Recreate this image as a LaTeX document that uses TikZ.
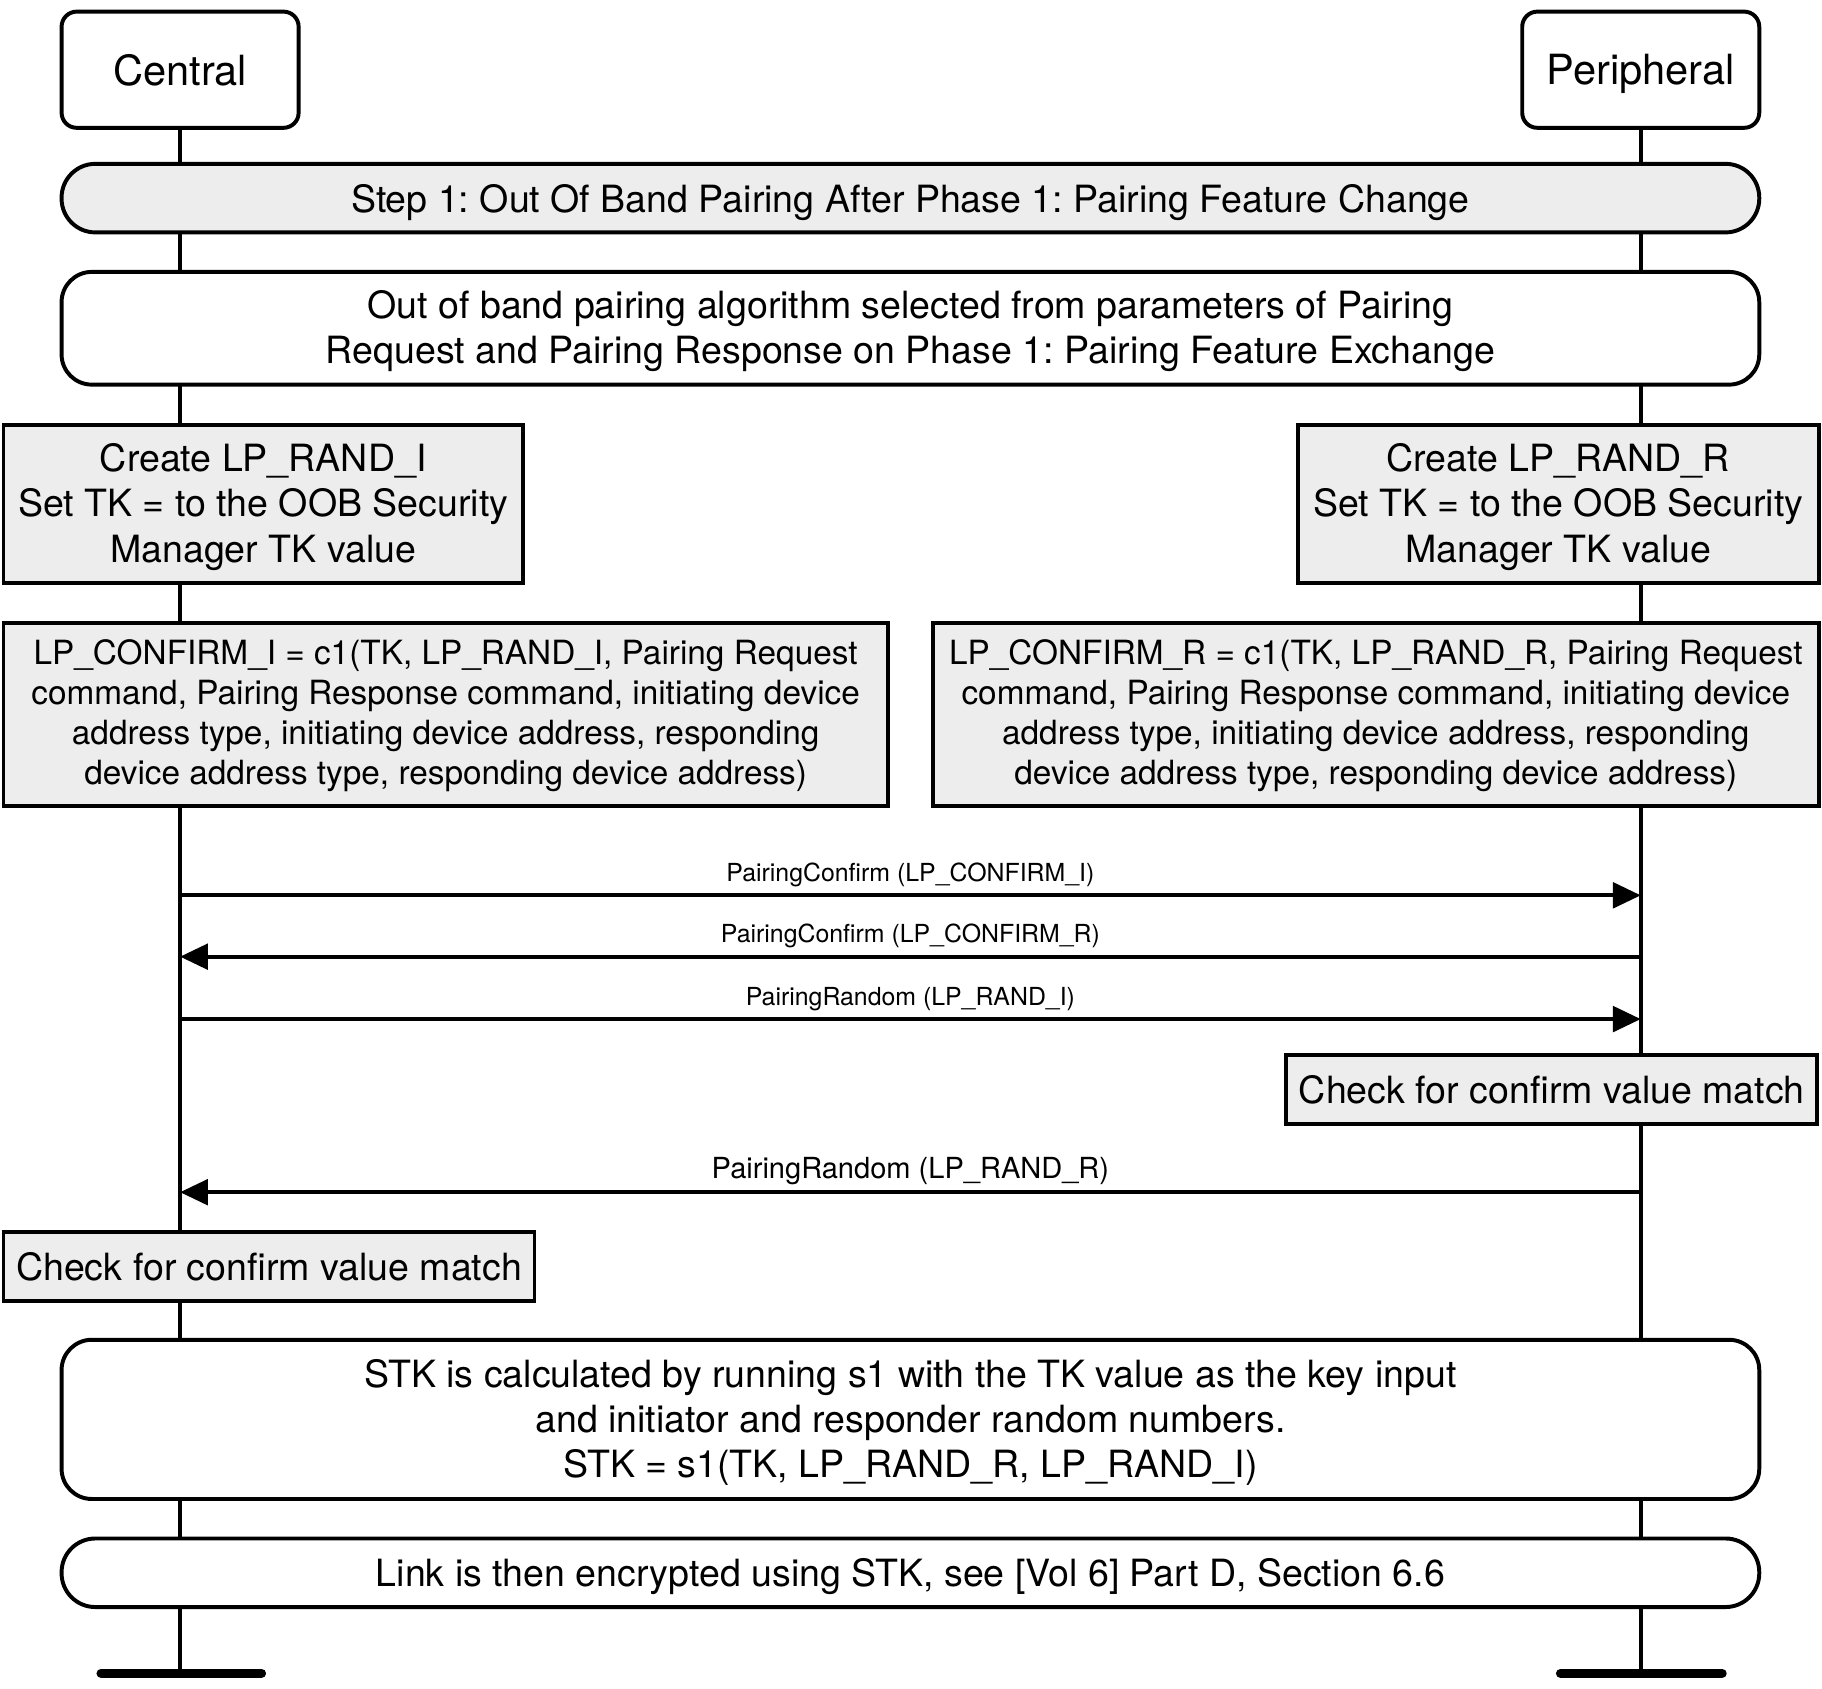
\documentclass[tikz,border=0pt]{standalone}
\usepackage{fontspec}
\setmainfont{TeX Gyre Heros}
\usetikzlibrary{arrows.meta,backgrounds}
\definecolor{boxgray}{RGB}{237,237,237}
\newcommand\toprule[1]{\rule{0pt}{#1}}
\frenchspacing
\begin{document}
\begin{tikzpicture}[x=1pt,y=-1pt,
  every node/.style={inner sep=0pt, outer sep=0pt, align=center},
  actor/.style={draw, line width=3.4pt, rounded corners=13pt, fill=white, text depth=0pt,
    minimum width=204pt, minimum height=100pt, font=\fontsize{35.8}{43}\selectfont},
  bar/.style={draw, line width=3.4pt, rounded corners=29pt, minimum width=1461pt, text depth=0pt,
    minimum height=59pt, font=\fontsize{32.3}{39}\selectfont},
  roundbox/.style={draw, line width=3.4pt, rounded corners=26pt, fill=white,
    minimum width=1461pt, font=\fontsize{32.3}{39}\selectfont},
  actbox/.style={draw, line width=3.4pt, fill=boxgray, font=\fontsize{32.3}{39}\selectfont},
  confbox/.style={draw, line width=3.4pt, fill=boxgray, font=\fontsize{28.7}{34.5}\selectfont,
    minimum height=158pt},
  life/.style={line width=3.4pt},
  msg/.style={line width=3.4pt, -{Triangle[length=24pt,width=22pt]}},
  lbl/.style={anchor=base, yshift=12pt, font=\fontsize{21.4}{25}\selectfont},
  lblbig/.style={anchor=base, yshift=12pt, font=\fontsize{25}{29}\selectfont},
  endbar/.style={line width=8pt, line cap=round}
]
\useasboundingbox (0,0) rectangle (1568,1453);

% actors
\node[actor] (central) at (155,60) {Central};
\node[actor] (peripheral) at (1412,60) {Peripheral};

% phase bars and boxes
\node[bar, fill=boxgray] (step) at (783.5,170.5)
  {Step 1: Out Of Band Pairing After Phase 1: Pairing Feature Change};
\node[roundbox, minimum height=97pt] (oob) at (783.5,282.5)
  {\toprule{28.5pt}Out of band pairing algorithm selected from parameters of Pairing\\
   Request and Pairing Response on Phase 1: Pairing Feature Exchange};

\node[actbox, minimum width=447pt, minimum height=136pt] (createI) at (226.5,434)
  {\toprule{28.5pt}Create LP\_RAND\_I\\Set TK = to the OOB Security\\Manager TK value};
\node[actbox, minimum width=448pt, minimum height=136pt] (createR) at (1341,434)
  {\toprule{28.5pt}Create LP\_RAND\_R\\Set TK = to the OOB Security\\Manager TK value};

\node[confbox, minimum width=761pt] (confI) at (383.5,615)
  {\toprule{23.5pt}LP\_CONFIRM\_I = c1(TK, LP\_RAND\_I, Pairing Request\\
   command, Pairing Response command, initiating device\\
   address type, initiating device address, responding\\
   device address type, responding device address)};
\node[confbox, minimum width=762pt] (confR) at (1184,615)
  {\toprule{23.5pt}LP\_CONFIRM\_R = c1(TK, LP\_RAND\_R, Pairing Request\\
   command, Pairing Response command, initiating device\\
   address type, initiating device address, responding\\
   device address type, responding device address)};

\node[actbox, minimum width=457pt, minimum height=59pt] (checkR) at (1335.5,937.5)
  {Check for confirm value match};
\node[actbox, minimum width=457pt, minimum height=60pt] (checkI) at (231.5,1090)
  {Check for confirm value match};

\node[roundbox, minimum height=137pt] (stk) at (783.5,1221.5)
  {\toprule{29.5pt}STK is calculated by running s1 with the TK value as the key input\\
   and initiator and responder random numbers.\\
   STK = s1(TK, LP\_RAND\_R, LP\_RAND\_I)};
\node[bar, fill=white] (link) at (783.5,1353.5)
  {Link is then encrypted using STK, see [Vol 6] Part D, Section 6.6};

% lifeline coordinates
\coordinate (cend) at (155,1440);
\coordinate (pend) at (1412,1440);
\coordinate (cendL) at (87,1440);
\coordinate (cendR) at (225,1440);
\coordinate (pendL) at (1343,1440);
\coordinate (pendR) at (1482,1440);

\coordinate (c1) at (155,770.5);  \coordinate (p1) at (1412,770.5);
\coordinate (c2) at (155,823.3);  \coordinate (p2) at (1412,823.3);
\coordinate (c3) at (155,877);    \coordinate (p3) at (1412,877);
\coordinate (c4) at (155,1026);   \coordinate (p4) at (1412,1026);

\begin{pgfonlayer}{background}
  \draw[life] (central.south) -- (cend);
  \draw[life] (peripheral.south) -- (pend);
\end{pgfonlayer}

\draw[endbar] (cendL) -- (cendR);
\draw[endbar] (pendL) -- (pendR);

% messages
\draw[msg] (c1) -- node[lbl] {PairingConfirm (LP\_CONFIRM\_I)} (p1);
\draw[msg] (p2) -- node[lbl] {PairingConfirm (LP\_CONFIRM\_R)} (c2);
\draw[msg] (c3) -- node[lbl] {PairingRandom (LP\_RAND\_I)} (p3);
\draw[msg] (p4) -- node[lblbig] {PairingRandom (LP\_RAND\_R)} (c4);
\end{tikzpicture}
\end{document}
